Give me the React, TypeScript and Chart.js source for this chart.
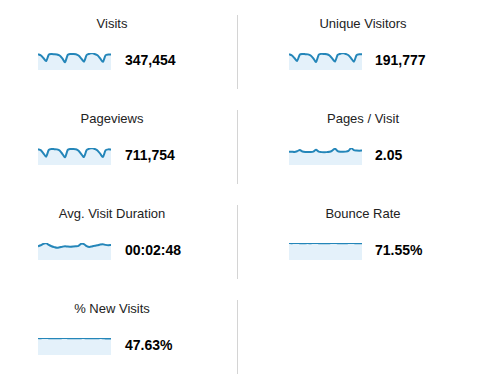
import React, { useEffect, useRef } from "react";
import { Chart, registerables } from "chart.js";

Chart.register(...registerables);

const dayLabels = [
  "1", "2", "3", "4", "5", "6", "7", "8", "9", "10", "11", "12", "13", "14",
  "15", "16", "17", "18", "19", "20", "21", "22", "23", "24", "25", "26", "27", "28",
];

const visitsValues = [13500, 12600, 10200, 7600, 13100, 13600, 13500, 13300, 12400, 9900, 6700, 12900, 13700, 13600, 13400, 12300, 9800, 7100, 12800, 13800, 14500, 13600, 12500, 9900, 7000, 12600, 13300, 13200];
const uniqueVisitorsValues = [7500, 7000, 5700, 4300, 7300, 7600, 7500, 7400, 6900, 5500, 3800, 7200, 7650, 7600, 7500, 6900, 5450, 4000, 7150, 7700, 8050, 7600, 7000, 5550, 3950, 7050, 7450, 7400];
const pageviewsValues = [27500, 26000, 20500, 14500, 26500, 28000, 27800, 27400, 25500, 19500, 13500, 26500, 28200, 28000, 27500, 25000, 19200, 14000, 26200, 28600, 29800, 28000, 25600, 19800, 14000, 25800, 27400, 27200];
const pagesPerVisitValues = [1.82, 1.84, 1.8, 1.9, 2.07, 1.86, 1.8, 1.79, 1.8, 1.86, 2.12, 1.84, 1.78, 1.76, 1.78, 1.82, 2.0, 2.26, 1.92, 1.84, 1.83, 1.85, 1.95, 2.35, 2.05, 2.0, 1.98, 2.0];
const durationValues = [160, 172, 188, 198, 175, 160, 150, 142, 148, 155, 160, 156, 155, 157, 160, 165, 190, 185, 162, 152, 158, 166, 172, 180, 184, 176, 172, 174];
const bounceRateValues = [71.8, 71.6, 71.9, 72.0, 71.5, 71.4, 71.6, 71.7, 71.5, 71.8, 72.1, 71.6, 71.3, 71.4, 71.5, 71.6, 71.9, 72.2, 71.5, 71.4, 71.3, 71.5, 71.7, 72.0, 71.8, 71.4, 71.5, 71.6];
const newVisitsValues = [48.2, 48.0, 48.3, 48.5, 48.1, 47.9, 47.8, 47.9, 48.0, 48.2, 48.4, 48.0, 47.8, 47.7, 47.8, 47.9, 48.1, 48.3, 47.9, 47.7, 47.6, 47.8, 47.9, 48.2, 48.1, 47.3, 46.9, 47.1];

const metricTitles = ["Visits", "Unique Visitors", "Pageviews", "Pages / Visit", "Avg. Visit Duration", "Bounce Rate", "% New Visits"];
const metricTotals = ["347,454", "191,777", "711,754", "2.05", "00:02:48", "71.55%", "47.63%"];
const metricSeries = [visitsValues, uniqueVisitorsValues, pageviewsValues, pagesPerVisitValues, durationValues, bounceRateValues, newVisitsValues];

const LINE = "#2486b9";
const FILL = "#e4f1fa";
const FONT = "'Liberation Sans', Arial, sans-serif";

function Sparkline({ values, left, top }: { values: number[]; left: number; top: number }) {
  const ref = useRef<HTMLCanvasElement | null>(null);
  useEffect(() => {
    if (!ref.current) return;
    const chart = new Chart(ref.current, {
      type: "line",
      data: {
        labels: dayLabels,
        datasets: [
          {
            data: values,
            borderColor: LINE,
            borderWidth: 2,
            backgroundColor: FILL,
            fill: "origin",
            pointRadius: 0,
            tension: 0.25,
          },
        ],
      },
      options: {
        animation: false,
        responsive: false,
        events: [],
        layout: { padding: { top: 2, left: 0, right: 0, bottom: 0 } },
        plugins: { legend: { display: false }, tooltip: { enabled: false } },
        scales: {
          x: { display: false },
          y: { display: false, min: 0, max: Math.max(...values) },
        },
      },
    });
    return () => chart.destroy();
  }, [values]);
  return (
    <canvas
      ref={ref}
      width={73}
      height={19}
      style={{ position: "absolute", left, top, width: 73, height: 19 }}
    />
  );
}

export default function App() {
  return (
    <div style={{ position: "absolute", left: 0, top: 0, width: 502, height: 375, background: "#fff", fontFamily: FONT }}>
      {[0, 1, 2, 3].map((r) => (
        <div
          key={"d" + r}
          style={{ position: "absolute", left: 237, top: 15 + r * 95, width: 1, height: 74, background: "#d4d4d4" }}
        />
      ))}
      {metricTitles.map((title, i) => {
        const col = i % 2;
        const row = Math.floor(i / 2);
        const cx = col === 0 ? 112 : 363;
        const sx = col === 0 ? 38 : 289;
        const vx = col === 0 ? 125 : 375;
        const oy = row * 95;
        return (
          <React.Fragment key={title}>
            <div
              style={{
                position: "absolute",
                left: cx - 100,
                width: 200,
                top: 17 + oy,
                fontSize: 13,
                lineHeight: "13px",
                textAlign: "center",
                color: "#222",
                whiteSpace: "nowrap",
              }}
            >
              {title}
            </div>
            <Sparkline values={metricSeries[i]} left={sx} top={51 + oy} />
            <div
              style={{
                position: "absolute",
                left: vx,
                top: 53 + oy,
                fontSize: 14,
                lineHeight: "14px",
                fontWeight: "bold",
                color: "#000",
                whiteSpace: "nowrap",
              }}
            >
              {metricTotals[i]}
            </div>
          </React.Fragment>
        );
      })}
    </div>
  );
}
